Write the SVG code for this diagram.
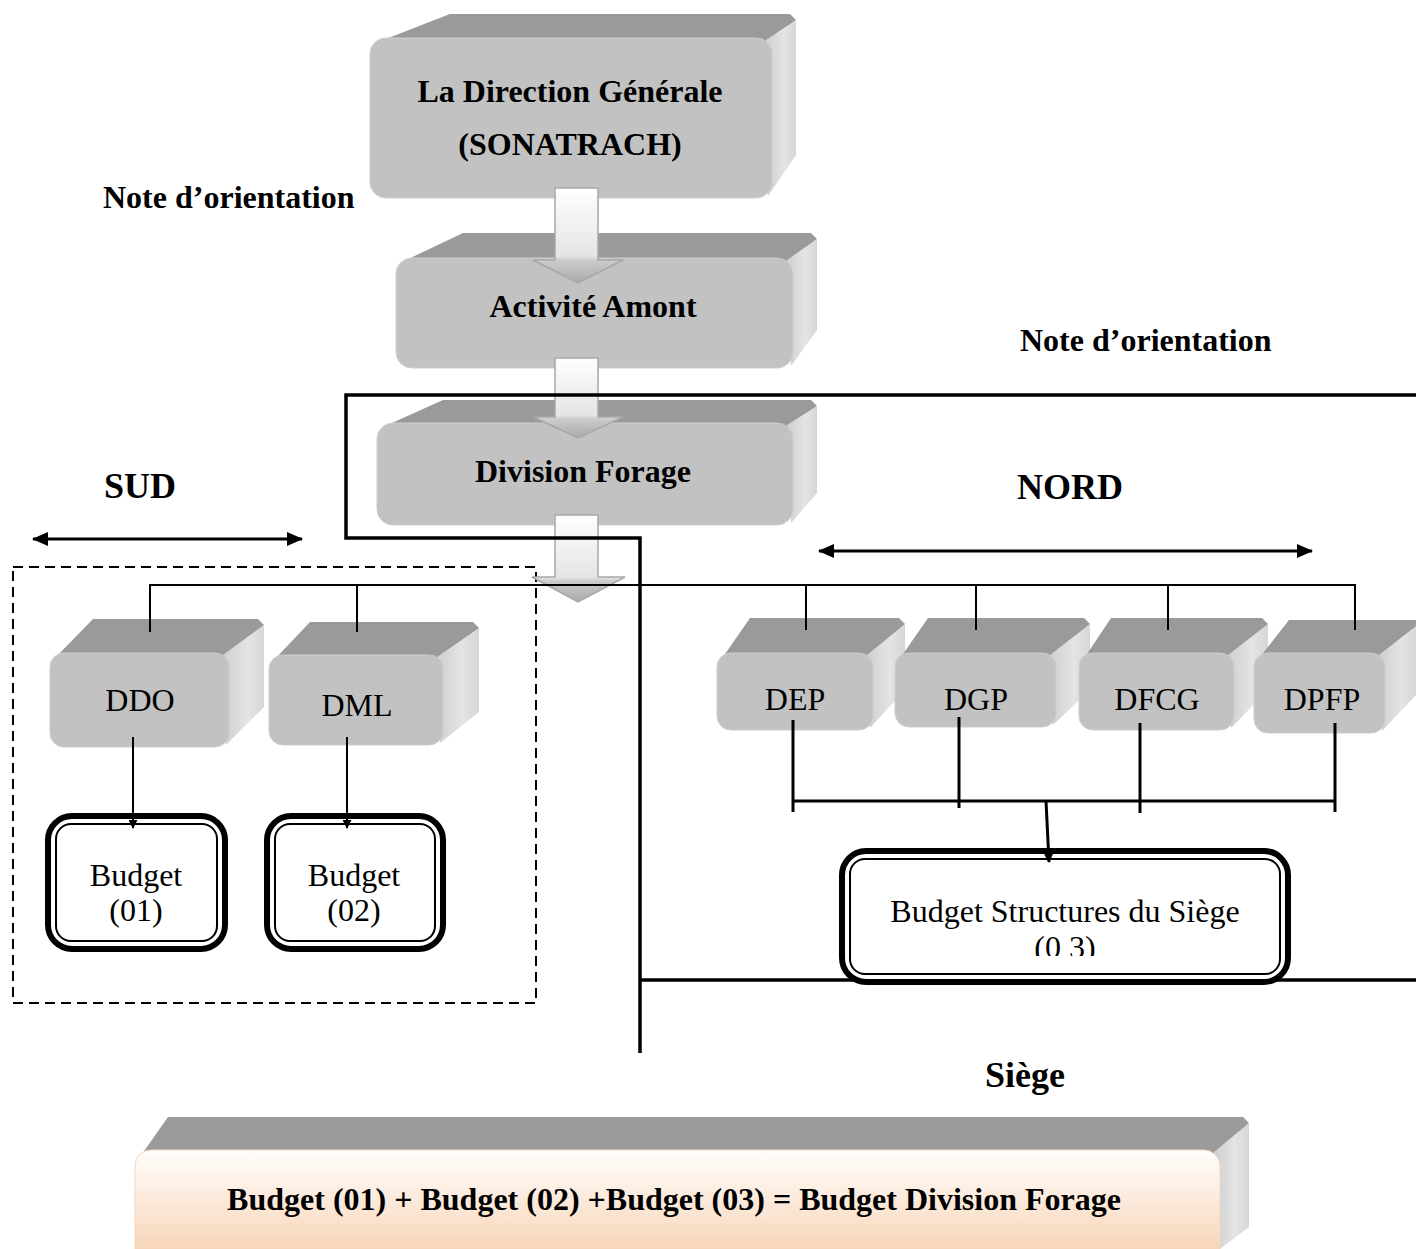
<svg xmlns="http://www.w3.org/2000/svg" width="1416" height="1249" viewBox="0 0 1416 1249">
  <defs>
    <linearGradient id="sideGrad" x1="0" y1="0" x2="1" y2="0">
      <stop offset="0" stop-color="#cfcfcf"/>
      <stop offset="0.6" stop-color="#e4e4e4"/>
      <stop offset="1" stop-color="#d6d6d6"/>
    </linearGradient>
    <linearGradient id="peachGrad" x1="0" y1="0" x2="0" y2="1">
      <stop offset="0" stop-color="#fffdfb"/>
      <stop offset="0.3" stop-color="#fdf0e6"/>
      <stop offset="1" stop-color="#f6cfae"/>
    </linearGradient>
    <linearGradient id="arrowGrad" x1="0" y1="0" x2="0" y2="1">
      <stop offset="0" stop-color="#ffffff"/>
      <stop offset="0.72" stop-color="#e4e4e4"/>
      <stop offset="0.76" stop-color="#cccccc"/>
      <stop offset="1" stop-color="#a9a9a9"/>
    </linearGradient>
    <marker id="headSmall" viewBox="0 0 10 10" refX="9" refY="5" markerWidth="9" markerHeight="9" markerUnits="userSpaceOnUse" orient="auto">
      <path d="M0,0 L10,5 L0,10 z" fill="#000"/>
    </marker>
    <marker id="headBig" viewBox="0 0 16 14" refX="15" refY="7" markerWidth="16" markerHeight="14" markerUnits="userSpaceOnUse" orient="auto-start-reverse">
      <path d="M0,0 L16,7 L0,14 z" fill="#000"/>
    </marker>
    <clipPath id="siegeClip">
      <rect x="840" y="850" width="450" height="106"/>
    </clipPath>
  </defs>
  <style>
    .top { fill: #9a9a9a; }
    .side { fill: url(#sideGrad); }
    .front { fill: #c2c2c2; stroke: #cdcdcd; stroke-width: 1; }
    .bold { font-family: "Liberation Serif", "Times New Roman", serif; font-weight: bold; font-size: 32px; fill: #000; }
    .big { font-family: "Liberation Serif", "Times New Roman", serif; font-weight: bold; font-size: 36px; fill: #000; }
    .reg { font-family: "Liberation Serif", "Times New Roman", serif; font-size: 32px; fill: #000; }
    .thin { stroke: #000; stroke-width: 2; fill: none; }
    .med { stroke: #000; stroke-width: 3; fill: none; }
    .frame { stroke: #000; stroke-width: 3.5; fill: none; }
    .budOuter { fill: #fff; stroke: #000; stroke-width: 6; }
    .budInner { fill: none; stroke: #000; stroke-width: 2; }
    .blk { fill: url(#arrowGrad); stroke: #a8a8a8; stroke-width: 1.5; }
  </style>

  <rect width="1416" height="1249" fill="#fff"/>

  <!-- free labels -->
  <g id="labels">
    <text class="bold" x="103" y="208">Note d’orientation</text>
    <text class="bold" x="1020" y="351">Note d’orientation</text>
    <text class="big" x="140" y="498" text-anchor="middle">SUD</text>
    <text class="big" x="1070" y="499" text-anchor="middle">NORD</text>
    <text class="big" x="1025" y="1087" text-anchor="middle">Siège</text>
  </g>

  <!-- southern region frame -->
  <rect x="13" y="567" width="523" height="436" fill="none" stroke="#000" stroke-width="2" stroke-dasharray="10 6"/>

  <!-- top of the chain -->
  <g id="direction-generale">
    <polygon class="top" points="378,42 450,14 790,14 796,20 768,42"/>
    <polygon class="side" points="766,40 796,20 796,155 768,196"/>
    <rect class="front" x="370" y="38" width="402" height="160" rx="16"/>
    <text class="bold" x="570" y="102" text-anchor="middle">La Direction Générale</text>
    <text class="bold" x="570" y="155" text-anchor="middle">(SONATRACH)</text>
  </g>

  <g id="activite-amont">
    <polygon class="top" points="402,262 463,233 811,233 817,239 789,262"/>
    <polygon class="side" points="787,260 817,239 817,330 791,366"/>
    <rect class="front" x="396" y="258" width="397" height="110" rx="16"/>
    <text class="bold" x="593" y="317" text-anchor="middle">Activité Amont</text>
  </g>

  <g id="division-forage">
    <polygon class="top" points="383,427 443,400 811,400 817,406 789,427"/>
    <polygon class="side" points="787,425 817,406 817,493 791,523"/>
    <rect class="front" x="377" y="423" width="416" height="102" rx="16"/>
    <text class="bold" x="583" y="482" text-anchor="middle">Division Forage</text>
  </g>

  <!-- regional directions -->
  <g id="ddo">
    <polygon class="top" points="56,657 93,619 258,619 264,625 225,657"/>
    <polygon class="side" points="223,655 264,625 264,707 226,745"/>
    <rect class="front" x="50" y="653" width="179" height="94" rx="14"/>
    <text class="reg" x="140" y="711" text-anchor="middle">DDO</text>
  </g>
  <g id="dml">
    <polygon class="top" points="275,659 310,622 473,622 479,628 439,659"/>
    <polygon class="side" points="437,657 479,628 479,712 440,743"/>
    <rect class="front" x="269" y="655" width="174" height="90" rx="14"/>
    <text class="reg" x="357" y="716" text-anchor="middle">DML</text>
  </g>

  <!-- head office directions -->
  <g id="dep">
    <polygon class="top" points="723,657 750,618 899,618 905,624 869,657"/>
    <polygon class="side" points="867,655 905,624 905,690 870,728"/>
    <rect class="front" x="717" y="653" width="156" height="77" rx="14"/>
    <text class="reg" x="795" y="710" text-anchor="middle">DEP</text>
  </g>
  <g id="dgp">
    <polygon class="top" points="901,657 928,618 1084,618 1090,624 1052,657"/>
    <polygon class="side" points="1050,655 1090,624 1090,690 1053,725"/>
    <rect class="front" x="895" y="653" width="161" height="74" rx="14"/>
    <text class="reg" x="976" y="710" text-anchor="middle">DGP</text>
  </g>
  <g id="dfcg">
    <polygon class="top" points="1085,657 1111,618 1262,618 1268,624 1230,657"/>
    <polygon class="side" points="1228,655 1268,624 1268,690 1231,728"/>
    <rect class="front" x="1079" y="653" width="155" height="77" rx="14"/>
    <text class="reg" x="1157" y="710" text-anchor="middle">DFCG</text>
  </g>
  <g id="dpfp">
    <polygon class="top" points="1260,657 1289,620 1416,620 1416,657"/>
    <polygon class="side" points="1379,655 1416,626 1416,695 1382,731"/>
    <rect class="front" x="1254" y="653" width="131" height="80" rx="14"/>
    <text class="reg" x="1322" y="710" text-anchor="middle">DPFP</text>
  </g>

  <!-- budgets -->
  <g id="budget-01">
    <rect class="budOuter" x="48" y="816" width="177" height="133" rx="24"/>
    <rect class="budInner" x="56" y="824" width="161" height="117" rx="15"/>
    <text class="reg" x="136" y="886" text-anchor="middle">Budget</text>
    <text class="reg" x="136" y="921" text-anchor="middle">(01)</text>
  </g>
  <g id="budget-02">
    <rect class="budOuter" x="267" y="816" width="176" height="133" rx="24"/>
    <rect class="budInner" x="275" y="824" width="160" height="117" rx="15"/>
    <text class="reg" x="354" y="886" text-anchor="middle">Budget</text>
    <text class="reg" x="354" y="921" text-anchor="middle">(02)</text>
  </g>

  <!-- block arrows between levels -->
  <g id="flow-arrows">
    <polygon class="blk" points="555,188 598,188 598,260 623,260 578,283 533,260 555,260"/>
    <polygon class="blk" points="555,358 598,358 598,417 623,417 578,438 533,417 555,417"/>
    <polygon class="blk" points="555,515 598,515 598,577 625,577 578,602 532,577 555,577"/>
  </g>

  <!-- head office frame -->
  <g id="frame">
    <polyline class="frame" points="1416,395 346,395 346,538 640,538 640,1053"/>
    <line class="frame" x1="640" y1="980" x2="1416" y2="980"/>
  </g>

  <g id="budget-03">
    <rect class="budOuter" x="842" y="851" width="446" height="131" rx="24"/>
    <rect class="budInner" x="850" y="859" width="430" height="115" rx="15"/>
    <text class="reg" x="1065" y="922" text-anchor="middle">Budget Structures du Siège</text>
    <text class="reg" x="1065" y="958" text-anchor="middle" clip-path="url(#siegeClip)">(0 3)</text>
  </g>

  <!-- total -->
  <g id="budget-total">
    <polygon class="top" points="142,1154 168,1117 1243,1117 1249,1123 1216,1154"/>
    <polygon class="side" points="1214,1152 1249,1123 1249,1227 1220,1249"/>
    <rect x="135" y="1150" width="1085" height="115" rx="16" fill="url(#peachGrad)" stroke="#f0d8c4" stroke-width="1"/>
    <text class="bold" x="674" y="1210" text-anchor="middle">Budget (01) + Budget (02) +Budget (03) = Budget Division Forage</text>
  </g>

  <!-- connectors -->
  <g id="connectors">
    <polyline class="thin" points="150,632 150,585 1355,585 1355,630"/>
    <line class="thin" x1="357" y1="585" x2="357" y2="632"/>
    <line class="thin" x1="806" y1="585" x2="806" y2="630"/>
    <line class="thin" x1="976" y1="585" x2="976" y2="630"/>
    <line class="thin" x1="1168" y1="585" x2="1168" y2="630"/>

    <line class="thin" x1="133" y1="737" x2="133" y2="828" marker-end="url(#headSmall)"/>
    <line class="thin" x1="347" y1="737" x2="347" y2="828" marker-end="url(#headSmall)"/>

    <line class="med" x1="793" y1="720" x2="793" y2="812"/>
    <line class="med" x1="959" y1="717" x2="959" y2="808"/>
    <line class="med" x1="1140" y1="723" x2="1140" y2="813"/>
    <line class="med" x1="1335" y1="723" x2="1335" y2="812"/>
    <line class="med" x1="793" y1="801" x2="1335" y2="801"/>
    <line class="med" x1="1046" y1="801" x2="1049" y2="862" marker-end="url(#headSmall)"/>

    <line class="med" x1="33" y1="539" x2="302" y2="539" marker-start="url(#headBig)" marker-end="url(#headBig)"/>
    <line class="med" x1="819" y1="551" x2="1312" y2="551" marker-start="url(#headBig)" marker-end="url(#headBig)"/>
  </g>
</svg>
